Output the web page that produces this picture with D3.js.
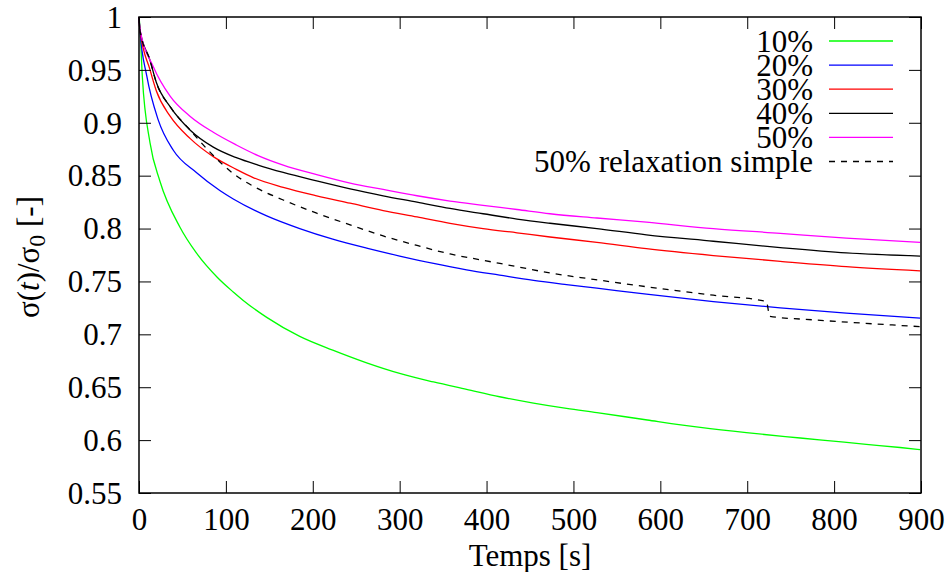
<!DOCTYPE html>
<html><head><meta charset="utf-8">
<script src="https://cdn.jsdelivr.net/npm/d3@7"></script>
<style>
#c, #c text, #c tspan { font-family: "Liberation Serif", Tinos, "Times New Roman", serif !important; }
</style>
</head>
<body style="margin:0;background:#fff"><svg id="c" width="949" height="572" font-family='"Liberation Serif"'></svg>
<script>
const SERIF='"Liberation Serif"';
const xTicks=[0,100,200,300,400,500,600,700,800,900];
const yTicks=[0.55,0.6,0.65,0.7,0.75,0.8,0.85,0.9,0.95,1];
const yTickLabels=["0.55","0.6","0.65","0.7","0.75","0.8","0.85","0.9","0.95","1"];
const seriesNames=["10%","20%","30%","40%","50%","50% relaxation simple"];
const seriesColors=["#00ff00","#0000ff","#ff0000","#000000","#ff00ff","#000000"];

const t10=[0,1,3.8,12.7,24,47,66,90,108.5,120,147,185,223,262,300,339,377,415,454,492,527,585,646,699,761,799,837,876,899];
const v10=[1,0.991,0.944,0.881,0.845,0.8015,0.777,0.754,0.740,0.732,0.716,0.698,0.685,0.673,0.663,0.655,0.648,0.641,0.635,0.630,0.626,0.619,0.612,0.607,0.602,0.599,0.596,0.593,0.591];

const t20=[0,1,9,22,39.5,66,93,108.5,147,185,223,262,300,339,377,415,454,492,527,584,661,738,814,899];
const v20=[1,0.988,0.944,0.903,0.874,0.853,0.836,0.828,0.812,0.800,0.790,0.7815,0.774,0.767,0.761,0.756,0.751,0.747,0.7436,0.738,0.731,0.725,0.720,0.7153];

const t30=[0,1,12.7,20,36,59,85.5,112,132,166,204.5,243,281,320,358,396,435,473,527,584,661,738,814,899];
const v30=[1,0.988,0.950,0.930,0.906,0.885,0.868,0.856,0.848,0.839,0.831,0.824,0.817,0.811,0.805,0.800,0.796,0.792,0.787,0.781,0.7745,0.769,0.764,0.760];

const t40=[0,1,12.7,20,36,59,85.5,112,137,166,204.5,243,281,320,358,396,435,473,527,584,661,738,814,899];
const v40=[1,0.988,0.959,0.938,0.915,0.893,0.877,0.867,0.860,0.853,0.845,0.8375,0.831,0.825,0.819,0.814,0.809,0.805,0.800,0.794,0.788,0.782,0.777,0.774];

const t50=[0,1,16.5,36,59,85.5,112,137,166,204.5,243,281,320,358,396,435,473,527,584,661,738,814,899];
const v50=[1,0.989,0.953,0.925,0.906,0.891,0.879,0.869,0.860,0.851,0.843,0.837,0.831,0.826,0.822,0.818,0.814,0.810,0.806,0.800,0.7955,0.791,0.787];

const tRS=[0,1,12.7,20,36,59,82,97,108.5,131.5,166,204.5,243,281,320,358,396,435,473,523,584,661,722,726,776,834,899];
const vRS=[1,0.988,0.959,0.938,0.915,0.893,0.872,0.860,0.852,0.840,0.827,0.8145,0.8035,0.793,0.784,0.776,0.770,0.764,0.758,0.752,0.745,0.737,0.731,0.717,0.7137,0.7105,0.7073];

const allT=[t10,t20,t30,t40,t50,tRS];
const allV=[v10,v20,v30,v40,v50,vRS];

const svg=d3.select("#c");
const L=139,R=921,T=17,B=493;
const x=d3.scaleLinear().domain([0,900]).range([L,R]);
const y=d3.scaleLinear().domain([0.55,1]).range([B,T]);
const FS=31, TL=12;

const line=d3.line().x(d=>x(d[0])).y(d=>y(d[1])).curve(d3.curveMonotoneX);
allT.forEach((ts,i)=>{
  const pts=ts.map((t,j)=>[t,allV[i][j]]);
  svg.append("path").attr("d",line(pts)).attr("fill","none")
    .attr("stroke",seriesColors[i]).attr("stroke-width",1.3)
    .attr("stroke-dasharray",i===5?"6,6":null);
});

function fix(g){g.attr("font-family",SERIF).attr("font-size",FS);g.select(".domain").remove();
  g.selectAll("text").attr("font-family",SERIF).attr("font-size",FS).attr("fill","#000");
  g.selectAll("line").attr("stroke","#000");}
const ax=svg.append("g");
ax.append("g").attr("transform",`translate(0,${B})`)
  .call(d3.axisBottom(x).tickValues(xTicks).tickSizeInner(-TL).tickSizeOuter(0).tickFormat(d3.format("d")))
  .call(g=>{fix(g);g.selectAll("text").attr("y",15).attr("dy","0.71em");});
ax.append("g").attr("transform",`translate(0,${T})`)
  .call(d3.axisTop(x).tickValues(xTicks).tickSizeInner(-TL).tickSizeOuter(0))
  .call(g=>{fix(g);g.selectAll("text").remove();});
ax.append("g").attr("transform",`translate(${L},0)`)
  .call(d3.axisLeft(y).tickValues(yTicks).tickSizeInner(-TL).tickSizeOuter(0).tickFormat((d,i)=>yTickLabels[i]))
  .call(g=>{fix(g);g.selectAll("text").attr("x",-17).attr("dy","0.33em");});
ax.append("g").attr("transform",`translate(${R},0)`)
  .call(d3.axisRight(y).tickValues(yTicks).tickSizeInner(-TL).tickSizeOuter(0))
  .call(g=>{fix(g);g.selectAll("text").remove();});
svg.append("rect").attr("x",L).attr("y",T).attr("width",R-L).attr("height",B-T)
  .attr("fill","none").attr("stroke","#000").attr("stroke-width",1.5);

const lg=svg.append("g");
seriesNames.forEach((n,i)=>{
  const yy=41+i*24.1;
  lg.append("text").attr("x",813).attr("y",yy+10.5).attr("text-anchor","end")
    .attr("font-size",FS).attr("font-family",SERIF).text(n);
  lg.append("line").attr("x1",829).attr("x2",893).attr("y1",yy).attr("y2",yy)
    .attr("stroke",seriesColors[i]).attr("stroke-width",1.3)
    .attr("stroke-dasharray",i===5?"6,6":null);
});

svg.append("text").attr("x",530).attr("y",566).attr("text-anchor","middle")
  .attr("font-size",FS).attr("font-family",SERIF).text("Temps [s]");
const yl=svg.append("text").attr("transform","translate(39,257) rotate(-90)")
  .attr("text-anchor","middle").attr("font-size",FS).attr("font-family",SERIF);
yl.append("tspan").text("σ(");
yl.append("tspan").attr("font-style","italic").text("t");
yl.append("tspan").text(")/σ");
yl.append("tspan").attr("dy",6).attr("font-size",24).text("0");
yl.append("tspan").attr("dy",-6).text(" [-]");
</script></body></html>
